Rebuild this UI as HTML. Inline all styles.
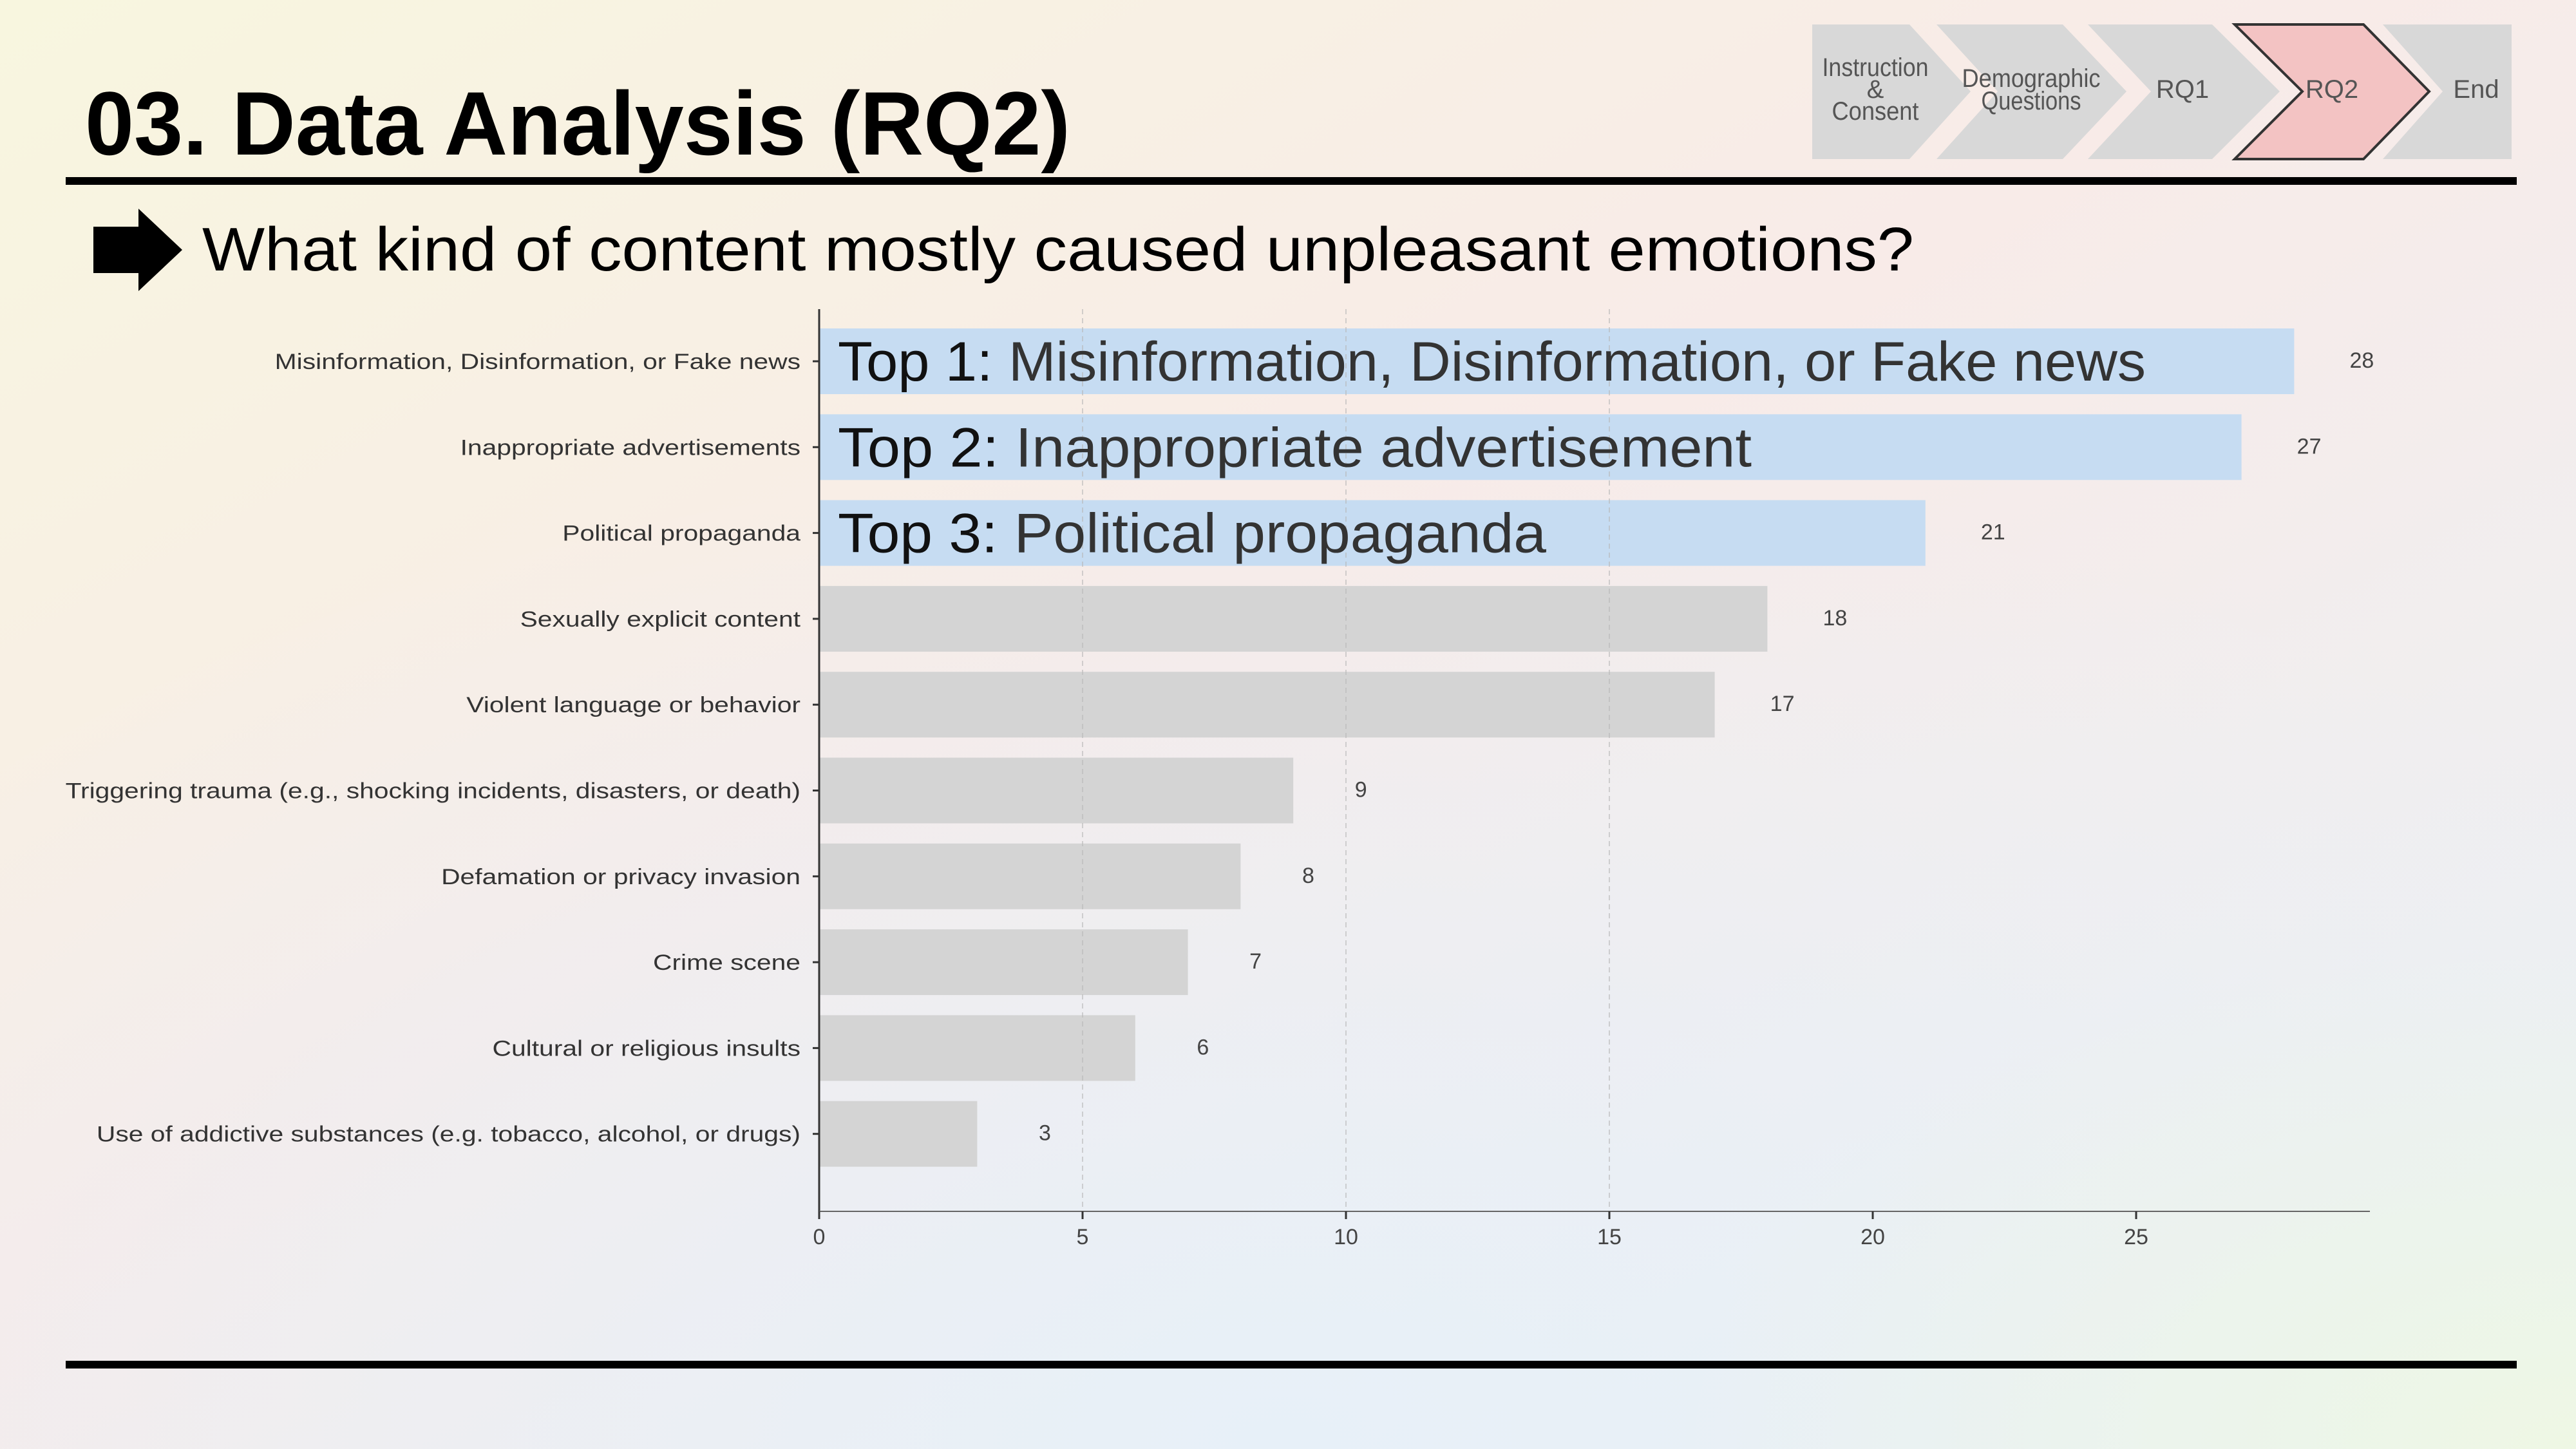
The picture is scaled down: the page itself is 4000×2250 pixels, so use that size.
<!DOCTYPE html>
<html><head><meta charset="utf-8"><style>
html,body{margin:0;padding:0;width:4000px;height:2250px;overflow:hidden}
svg{display:block}
</style></head><body>
<svg id="page" width="4000" height="2250" viewBox="0 0 4000 2250" xmlns="http://www.w3.org/2000/svg" font-family="'Liberation Sans', sans-serif">
<defs>
<linearGradient id="bgA" x1="0" y1="0" x2="1" y2="1">
<stop offset="0" stop-color="#f8f6df"/><stop offset="0.45" stop-color="#f8ebe8"/><stop offset="1" stop-color="#e9f1f6"/>
</linearGradient>
<radialGradient id="bgB" cx="0.5" cy="1" r="0.7">
<stop offset="0" stop-color="#e6f0f9" stop-opacity="0.9"/><stop offset="1" stop-color="#e6f0f9" stop-opacity="0"/>
</radialGradient>
<radialGradient id="bgC" cx="1" cy="1" r="0.35">
<stop offset="0" stop-color="#eef7e4"/><stop offset="1" stop-color="#eef7e4" stop-opacity="0"/>
</radialGradient>
</defs>
<rect width="4000" height="2250" fill="url(#bgA)"/>
<rect width="4000" height="2250" fill="url(#bgB)"/>
<rect width="4000" height="2250" fill="url(#bgC)"/>

<text x="132" y="240" font-size="140" font-weight="bold" fill="#000" textLength="1530" lengthAdjust="spacingAndGlyphs">03. Data Analysis (RQ2)</text>
<rect x="102" y="275" width="3806" height="12" fill="#000"/>
<rect x="102" y="2113" width="3806" height="12" fill="#000"/>

<g>
<polygon points="2814,38 2965,38 3060,142 2965,247 2814,247" fill="#d8d8d8"/>
<polygon points="3007,38 3203,38 3302,142 3203,247 3007,247 3102,142" fill="#d8d8d8"/>
<polygon points="3242,38 3435,38 3540,142 3435,247 3242,247 3340,142" fill="#d8d8d8"/>
<polygon points="3470,38 3670,38 3772,142 3670,247 3470,247 3575,142" fill="#f3c3c3" stroke="#333" stroke-width="4"/>
<polygon points="3700,38 3900,38 3900,247 3700,247 3793,142" fill="#d8d8d8"/>
<g font-size="40" fill="#555" text-anchor="middle">
<text x="2912" y="118" textLength="165" lengthAdjust="spacingAndGlyphs">Instruction</text>
<text x="2912" y="152">&amp;</text>
<text x="2912" y="186" textLength="135" lengthAdjust="spacingAndGlyphs">Consent</text>
<text x="3154" y="135" textLength="215" lengthAdjust="spacingAndGlyphs">Demographic</text>
<text x="3154" y="170" textLength="155" lengthAdjust="spacingAndGlyphs">Questions</text>
<text x="3389" y="152">RQ1</text>
<text x="3621" y="152">RQ2</text>
<text x="3845" y="152">End</text>
</g>
</g>

<polygon points="145,352 215,352 215,324 283,388 215,452 215,424 145,424" fill="#000"/>
<text x="314" y="420" font-size="96" fill="#000" textLength="2658" lengthAdjust="spacingAndGlyphs">What kind of content mostly caused unpleasant emotions?</text>

<g id="chart"></g>
</svg>
<script>
const categories = ["Misinformation, Disinformation, or Fake news","Inappropriate advertisements","Political propaganda","Sexually explicit content","Violent language or behavior","Triggering trauma (e.g., shocking incidents, disasters, or death)","Defamation or privacy invasion","Crime scene","Cultural or religious insults","Use of addictive substances (e.g. tobacco, alcohol, or drugs)"];
const values = [28,27,21,18,17,9,8,7,6,3];
const xTicks = [0,5,10,15,20,25];
const highlightCount = 3;
const topLabels = ["Misinformation, Disinformation, or Fake news","Inappropriate advertisement","Political propaganda"];

const NS = "http://www.w3.org/2000/svg";
const g = document.getElementById('chart');
const X0 = 1272, PX = 81.8, Y0 = 561, STEP = 133.3, BH = 102;
function xs(v){ return X0 + v*PX; }
function ys(i){ return Y0 + i*STEP; }
function mk(tag, attrs, parent){ const e=document.createElementNS(NS,tag); for(const k in attrs) e.setAttribute(k, attrs[k]); (parent||g).appendChild(e); return e; }

values.forEach((v,i)=>{
  const r = mk('rect',{x:xs(0),y:ys(i)-BH/2,width:xs(v)-xs(0),height:BH,fill:i<highlightCount?'#c6dcf2':'#d4d4d4'});
  
  
});
[5,10,15].forEach(t=>{
  const l = mk('line',{x1:xs(t),x2:xs(t),y1:480,y2:1880,stroke:'#b8b8b8','stroke-width':2,'stroke-dasharray':'8,6',opacity:0.6});
  
  
});
const ya = mk('line',{x1:xs(0),x2:xs(0),y1:480,y2:1883,stroke:'#333','stroke-width':3});


const xa = mk('line',{x1:xs(0),x2:3680,y1:1881,y2:1881,stroke:'#666','stroke-width':2});


values.forEach((v,i)=>{
  const t = mk('text',{x:1243,y:ys(i)+12,'font-size':34,fill:'#333','text-anchor':'end'});
  t.textContent = categories[i];
  
  
  const w = t.getComputedTextLength();
  if (w > 0) { t.setAttribute('textLength', (w*1.2).toFixed(1)); t.setAttribute('lengthAdjust','spacingAndGlyphs'); }
  const tk = mk('line',{x1:xs(0)-10,x2:xs(0),y1:ys(i),y2:ys(i),stroke:'#333','stroke-width':3});
  
  
  const vl = mk('text',{x:xs(v)+105,y:ys(i)+10,'font-size':34,fill:'#444','text-anchor':'middle'});
  vl.textContent = v;
  
  
});
xTicks.forEach(t=>{
  const tk = mk('line',{x1:xs(t),x2:xs(t),y1:1881,y2:1893,stroke:'#333','stroke-width':3});
  
  
  const tl = mk('text',{x:xs(t),y:1932,'font-size':34,fill:'#444','text-anchor':'middle'});
  tl.textContent = t;
  
  
});
const widths = [2031,1419,1100];
topLabels.forEach((s,i)=>{
  const t = mk('text',{x:1301,y:ys(i)+30,'font-size':86,fill:'#111',textLength:widths[i],lengthAdjust:'spacingAndGlyphs'});
  
  
  const a = document.createElementNS(NS,'tspan'); a.textContent = 'Top ' + (i+1) + ': '; t.appendChild(a);
  const b = document.createElementNS(NS,'tspan'); b.setAttribute('fill','#333'); b.textContent = s; t.appendChild(b);
});
</script>
</body></html>
